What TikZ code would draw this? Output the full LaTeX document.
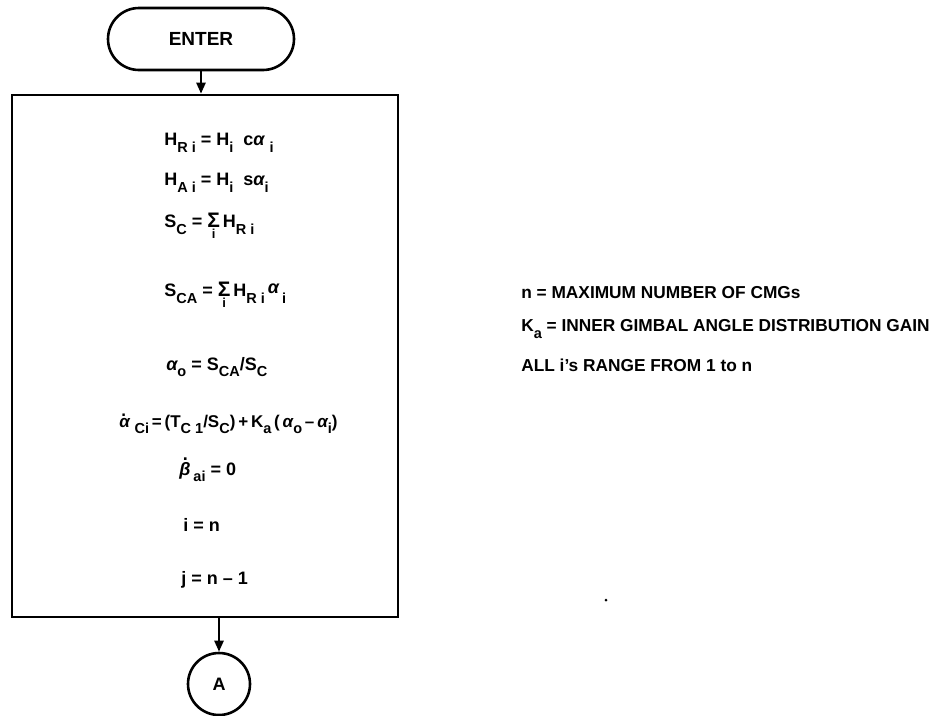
\documentclass[tikz,border=0pt]{standalone}
\usepackage{fontspec}
\setmainfont{Liberation Sans}
\usetikzlibrary{arrows.meta}
\newcommand\T[1]{\mbox{#1}}
\newcommand\al{{\itshape α}}
\newcommand\be{{\itshape β}}
\newcommand\sub[1]{\raisebox{-0.38em}{\fontsize{14.5}{14}\selectfont #1}}
\newcommand\sm{\ensuremath{\mathop{\T{\fontsize{21}{21}\selectfont Σ}}\limits_{\T{\fontsize{13}{13}\selectfont\bfseries i}}}}
\newcommand\dal{\leavevmode\rlap{\raisebox{0.62em}{\hspace{0.12em}.}}\al}
\newcommand\dbe{\leavevmode\rlap{\raisebox{0.8em}{\hspace{0.2em}.}}\be}
\begin{document}
\begin{tikzpicture}[x=1pt,y=-1pt,
  line width=2.6pt,
  txt/.style={font=\bfseries\fontsize{18}{19}\selectfont, inner sep=0pt, anchor=west},
  rtxt/.style={font=\bfseries\fontsize{17.3}{19}\selectfont, inner sep=0pt, anchor=west},
  flow/.style={-{Triangle[length=11pt,width=9pt]}, line width=2.4pt}]
\useasboundingbox (0,0) rectangle (941,715);
\node[draw, rounded corners=31pt, minimum width=186pt, minimum height=62pt,
      font=\bfseries\fontsize{19}{20}\selectfont] (enter) at (201,39) {ENTER};
\node[draw, minimum width=386pt, minimum height=522pt, inner sep=0pt] (box) at (205,356) {};
\node[draw, circle, minimum size=62pt, inner sep=0pt,
      font=\bfseries\fontsize{18}{18}\selectfont] (A) at (219,684) {A};
\draw[flow] (enter.south) -- (enter.south |- box.north);
\draw[flow] (box.south -| A.north) -- (A.north);

\node[txt] (l1) at (163,143) {H\sub{R i} = H\sub{i}\ \ c\al\ \sub{i}};
\node[txt] (l2) at (163,183) {H\sub{A i} = H\sub{i}\ \ s\al\sub{i}};
\node[txt] (l3) at (163,226) {S\sub{C} = \sm\,H\sub{R i}};
\node[txt] (l4) at (163,295) {S\sub{CA} = \sm\,H\sub{R i}\,\raisebox{0.15em}{\al}\,\sub{i}};
\node[txt] (l5) at (165,367) {\al\sub{o} = S\sub{CA}/S\sub{C}};
\node[txt, font=\bfseries\fontsize{17}{18}\selectfont] (l6) at (118,424) {\dal\ \sub{Ci}\,=\,(T\sub{C 1}/S\sub{C})\,+\,K\sub{a}\,(\,\al\sub{o}\,--\,\al\sub{i})};
\node[txt] (l7) at (178,470) {\dbe\,\sub{ai} = 0};
\node[txt] (l8) at (182,525) {i = n};
\node[txt] (l9) at (180,580) {j = n -- 1};

\node[rtxt] (r1) at (520,293) {n = MAXIMUM NUMBER OF CMGs};
\node[rtxt] (r2) at (520,329) {K\sub{a} = INNER GIMBAL ANGLE DISTRIBUTION GAIN};
\node[rtxt] (r3) at (520,365) {ALL i's RANGE FROM 1 to n};
\fill (606,600) circle (1.5pt);
\end{tikzpicture}
\end{document}
